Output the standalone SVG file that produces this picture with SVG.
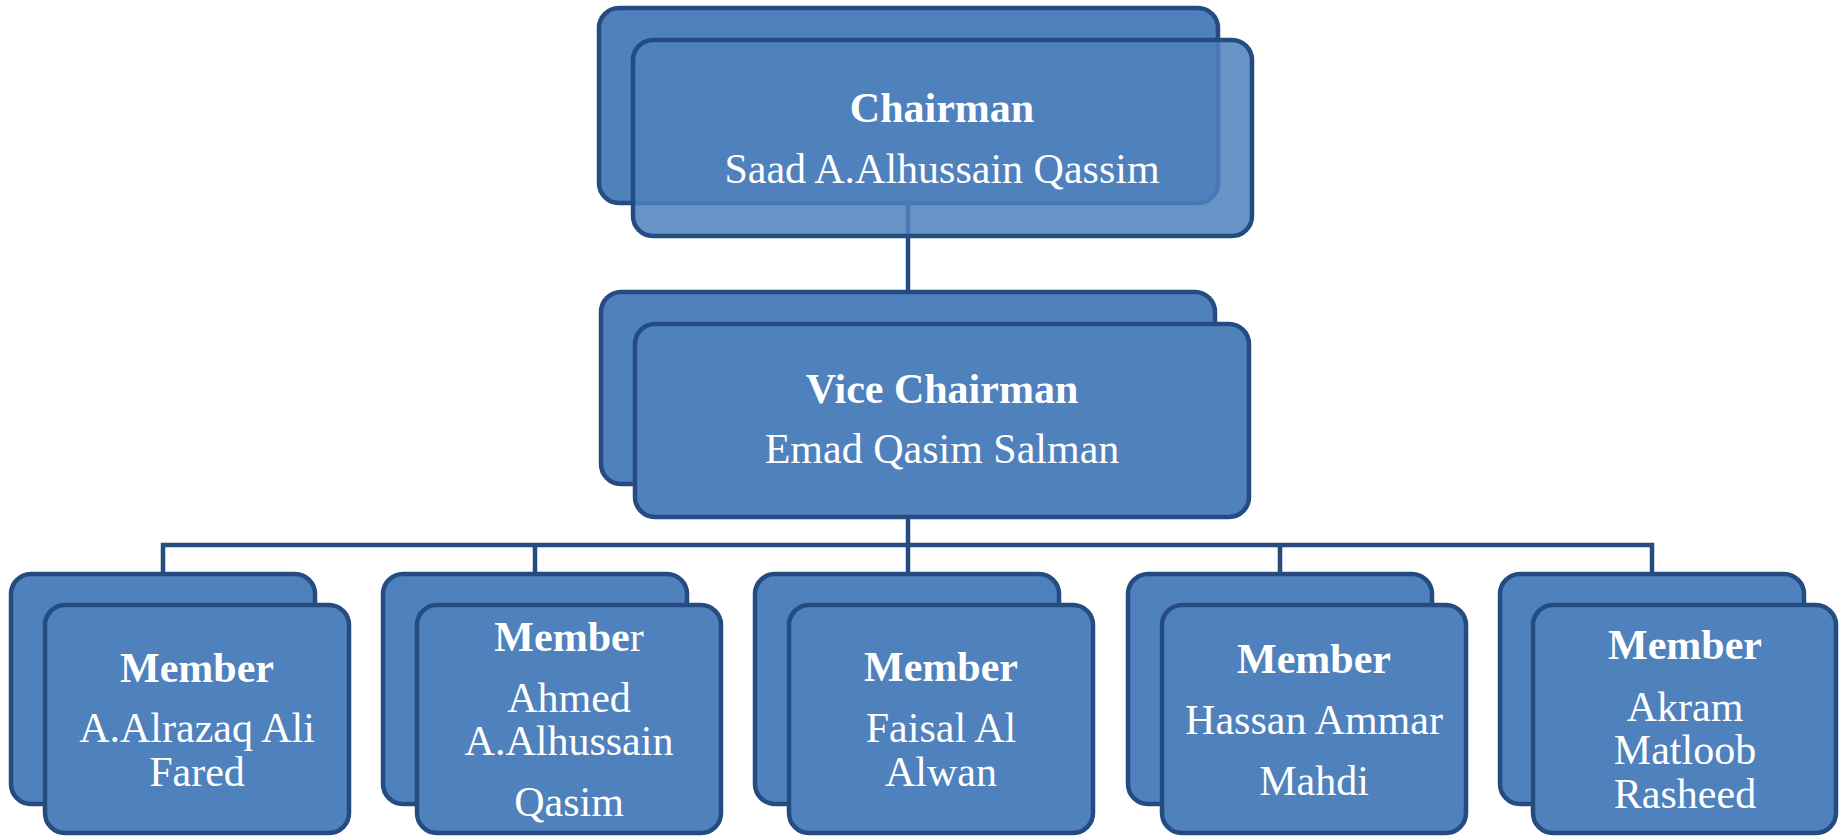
<svg xmlns="http://www.w3.org/2000/svg" width="1843" height="837" viewBox="0 0 1843 837">
<style>
.box{fill:#4F81BD;stroke:#244C80;stroke-width:4.5}
.glass{fill:#4F81BD;fill-opacity:0.86;stroke:#244C80;stroke-width:4.5}
.conn{fill:none;stroke:#244C80;stroke-width:4.5}
text{font-family:"Liberation Serif","Times New Roman",serif;font-size:42px;fill:#FFFFFF;text-anchor:middle}
.b{font-weight:bold}
</style>
<rect x="0" y="0" width="1843" height="837" fill="#FFFFFF"/>
<g id="connectors">
<path class="conn" d="M908 203 V292"/>
<path class="conn" d="M908 484 V545"/>
<path class="conn" d="M163 574 V545 H1652 V574"/>
<path class="conn" d="M535 545 V574"/>
<path class="conn" d="M908 545 V574"/>
<path class="conn" d="M1280 545 V574"/>
</g>
<g id="chairman">
<rect class="box" x="599" y="8" width="619" height="195" rx="20"/>
<rect class="glass" x="633" y="40" width="619" height="196" rx="20"/>
<text class="b" x="942" y="122">Chairman</text>
<text x="942" y="183">Saad A.Alhussain Qassim</text>
</g>
<g id="vice-chairman">
<rect class="box" x="601" y="292" width="614" height="192" rx="20"/>
<rect class="box" x="635" y="324" width="614" height="193" rx="20"/>
<text class="b" x="942" y="403">Vice Chairman</text>
<text x="942" y="463">Emad Qasim Salman</text>
</g>
<g id="member1">
<rect class="box" x="11" y="574" width="304" height="230" rx="20"/>
<rect class="box" x="45" y="605" width="304" height="228" rx="20"/>
<text class="b" x="197" y="682">Member</text>
<text x="197" y="742">A.Alrazaq Ali</text>
<text x="197" y="786">Fared</text>
</g>
<g id="member2">
<rect class="box" x="383" y="574" width="304" height="230" rx="20"/>
<rect class="box" x="417" y="605" width="304" height="228" rx="20"/>
<text x="569" y="651"><tspan class="b">Membe</tspan>r</text>
<text x="569" y="712">Ahmed</text>
<text x="569" y="755">A.Alhussain</text>
<text x="569" y="816">Qasim</text>
</g>
<g id="member3">
<rect class="box" x="755" y="574" width="304" height="230" rx="20"/>
<rect class="box" x="789" y="605" width="304" height="228" rx="20"/>
<text class="b" x="941" y="681">Member</text>
<text x="941" y="742">Faisal Al</text>
<text x="941" y="786">Alwan</text>
</g>
<g id="member4">
<rect class="box" x="1128" y="574" width="304" height="230" rx="20"/>
<rect class="box" x="1162" y="605" width="304" height="228" rx="20"/>
<text class="b" x="1314" y="673">Member</text>
<text x="1314" y="734">Hassan Ammar</text>
<text x="1314" y="795">Mahdi</text>
</g>
<g id="member5">
<rect class="box" x="1500" y="574" width="304" height="230" rx="20"/>
<rect class="box" x="1533" y="605" width="303" height="228" rx="20"/>
<text class="b" x="1685" y="659">Member</text>
<text x="1685" y="721">Akram</text>
<text x="1685" y="764">Matloob</text>
<text x="1685" y="808">Rasheed</text>
</g>
</svg>
